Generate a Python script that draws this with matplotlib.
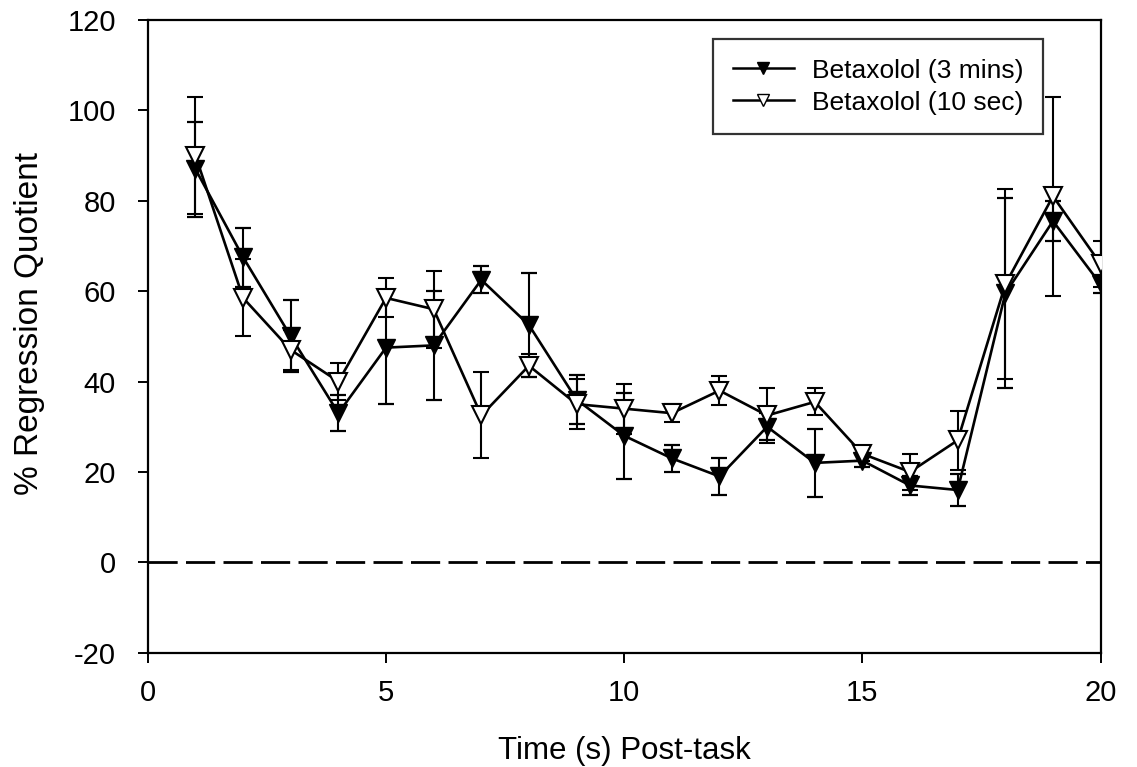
import numpy as np
import matplotlib.pyplot as plt
from matplotlib.lines import Line2D

plt.rcParams['font.family'] = ['Liberation Sans', 'DejaVu Sans']
plt.rcParams['axes.unicode_minus'] = False

# time points (s) post-task
time_s = np.arange(1, 21)

# Betaxolol (3 mins): mean and error
mins3_mean = [87, 67.5, 50, 33, 47.5, 48, 62.5, 52.5, 36, 28,
              23, 19, 30, 22, 22.5, 17, 16, 59.5, 75.5, 61.5]
mins3_err = [10.5, 6.5, 8, 4, 12.5, 12, 3, 11.5, 5.5, 9.5,
             3, 4, 3, 7.5, 1.5, 2, 3.5, 21, 4.5, 2]

# Betaxolol (10 sec): mean and error
sec10_mean = [90, 58.5, 47, 40, 58.5, 56, 32.5, 43.5, 35, 34,
              33, 38, 32.5, 35.5, 24, 20, 27, 61.5, 81, 66]
sec10_err = [13, 8.5, 4.5, 4, 4.3, 8.5, 9.5, 2.5, 5.5, 5.5,
             2, 3.3, 6, 3, 1.5, 4, 6.5, 21, 22, 5]

labels = ['Betaxolol (3 mins)', 'Betaxolol (10 sec)']

fig = plt.figure(figsize=(11.37, 7.67), dpi=100)
ax = fig.add_axes([0.130, 0.149, 0.838, 0.825])

# zero reference line
ax.axhline(0, color='black', lw=2, dashes=(10.5, 3), zorder=1)

ax.errorbar(time_s, mins3_mean, yerr=mins3_err, color='black', lw=1.9,
            marker='v', markersize=13, markerfacecolor='black',
            markeredgecolor='black', capsize=5.5, capthick=1.6, elinewidth=1.5,
            zorder=3)
ax.errorbar(time_s, sec10_mean, yerr=sec10_err, color='black', lw=1.9,
            marker='v', markersize=13, markerfacecolor='white',
            markeredgecolor='black', markeredgewidth=1.5, capsize=5.5,
            capthick=1.6, elinewidth=1.5, zorder=4)

ax.set_xlim(0, 20)
ax.set_ylim(-20, 120)
ax.set_xticks([0, 5, 10, 15, 20])
ax.set_yticks(np.arange(-20, 121, 20))
ax.tick_params(axis='both', direction='out', labelsize=21, width=1.4, color='black')
ax.tick_params(axis='y', length=7, pad=16)
ax.tick_params(axis='x', length=7, pad=12)
for sp in ax.spines.values():
    sp.set_linewidth(1.6)

ax.set_xlabel('Time (s) Post-task', fontsize=22.5)
ax.set_ylabel('% Regression Quotient', fontsize=24)
ax.xaxis.set_label_coords(0.5, -0.131)
ax.yaxis.set_label_coords(-0.108, 0.52)

handles = [
    Line2D([], [], color='black', lw=1.8, marker='v', markersize=9,
           markerfacecolor='black', markeredgecolor='black'),
    Line2D([], [], color='black', lw=1.8, marker='v', markersize=9,
           markerfacecolor='white', markeredgecolor='black'),
]
leg = ax.legend(handles, labels, loc='upper right', bbox_to_anchor=(0.94, 0.97),
                borderaxespad=0, fontsize=19, frameon=True, fancybox=False,
                edgecolor='black', handlelength=2.3, handletextpad=0.7,
                borderpad=0.75, labelspacing=0.3)
leg.get_frame().set_linewidth(1.6)

fig.savefig('out.png', dpi=100)
